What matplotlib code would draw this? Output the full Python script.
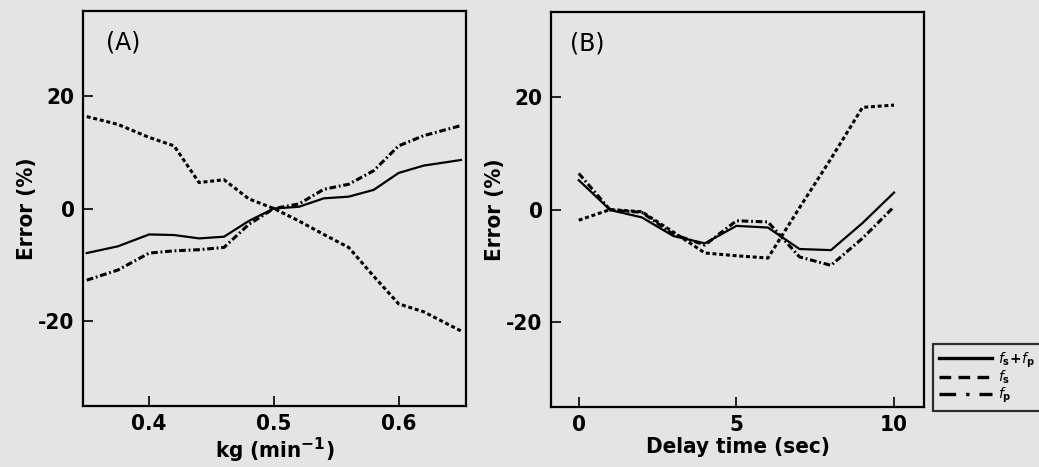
import matplotlib
matplotlib.use("Agg")
import matplotlib.pyplot as plt
from matplotlib.lines import Line2D

# ---- data ----
kg = [0.35, 0.375, 0.40, 0.42, 0.44, 0.46, 0.48, 0.50, 0.52, 0.54, 0.56, 0.58, 0.60, 0.62, 0.65]
a_sum = [-7.9, -6.7, -4.6, -4.7, -5.3, -5.0, -2.2, 0.0, 0.3, 1.8, 2.1, 3.3, 6.3, 7.6, 8.6]
a_fs = [16.3, 14.9, 12.6, 11.1, 4.6, 5.1, 1.7, 0.0, -2.2, -4.6, -6.9, -12.0, -16.9, -18.3, -21.7]
a_fp = [-12.7, -10.9, -7.9, -7.5, -7.3, -6.9, -2.8, 0.0, 0.8, 3.4, 4.3, 6.7, 11.1, 12.9, 14.7]

delay = [0, 1, 2, 3, 4, 5, 6, 7, 8, 9, 10]
b_sum = [5.2, -0.1, -1.4, -4.7, -6.0, -2.9, -3.2, -7.0, -7.2, -2.4, 3.0]
b_fs = [-1.9, 0.0, -0.4, -4.0, -7.7, -8.2, -8.6, 0.3, 9.0, 18.1, 18.5]
b_fp = [6.4, -0.1, -0.5, -4.4, -6.3, -2.0, -2.2, -8.4, -9.9, -5.1, 0.5]

xticks_a = [0.4, 0.5, 0.6]
xticks_b = [0, 5, 10]
yticks = [-20, 0, 20]

W, H = 1039, 467
bg = "#e4e4e4"
fam = ["DejaVu Sans"]
stretch = "condensed"

fig = plt.figure(figsize=(W / 100, H / 100), dpi=100, facecolor=bg)

def box(x0, y0, x1, y1):
    return [x0 / W, 1 - y1 / H, (x1 - x0) / W, (y1 - y0) / H]

axA = fig.add_axes(box(83, 11, 466, 406))
axB = fig.add_axes(box(551, 12, 924, 407))

ls_fs = (0, (1.3, 0.9))
ls_fp = (0, (2.2, 0.9, 0.6, 0.9))

def style(ax, xt, xl, xlim):
    ax.set_facecolor(bg)
    ax.set_xlim(*xlim)
    ax.set_ylim(-35, 35)
    ax.set_xticks(xt)
    ax.set_yticks(yticks)
    ax.set_xticklabels([str(v) for v in xt], fontsize=16, fontweight="bold", family=fam, stretch=stretch)
    ax.set_yticklabels([str(v) for v in yticks], fontsize=16, fontweight="bold", family=fam, stretch=stretch)
    ax.tick_params(direction="in", length=7, width=1.2, pad=6)
    for s in ax.spines.values():
        s.set_linewidth(1.6)
    ax.set_xlabel(xl, fontsize=16, fontweight="bold", family=fam, stretch=stretch, labelpad=1)
    ax.set_ylabel("Error (%)", fontsize=16, fontweight="bold", family=fam, stretch=stretch, labelpad=1)

axA.plot(kg, a_sum, color="black", lw=1.6, ls="-")
axA.plot(kg, a_fs, color="black", lw=2.2, ls=ls_fs)
axA.plot(kg, a_fp, color="black", lw=2.2, ls=ls_fp)
style(axA, xticks_a, r"kg (min$^{\mathbf{-1}}$)", (0.347, 0.654))
axA.text(0.06, 0.95, "(A)", transform=axA.transAxes, fontsize=17, va="top", ha="left")

axB.plot(delay, b_sum, color="black", lw=1.6, ls="-")
axB.plot(delay, b_fs, color="black", lw=2.2, ls=ls_fs)
axB.plot(delay, b_fp, color="black", lw=2.2, ls=ls_fp)
style(axB, xticks_b, "Delay time (sec)", (-0.88, 10.95))
axB.text(0.05, 0.95, "(B)", transform=axB.transAxes, fontsize=17, va="top", ha="left")

handles = [
    Line2D([], [], color="black", lw=2.4, ls="-"),
    Line2D([], [], color="black", lw=2.4, ls=(0, (3.5, 2.2))),
    Line2D([], [], color="black", lw=2.4, ls=(0, (5, 3, 1, 3))),
]
labels = [r"$\mathbf{\mathit{f}_s\!+\!\mathit{f}_p}$", r"$\mathbf{\mathit{f}_s}$", r"$\mathbf{\mathit{f}_p}$"]
leg = fig.legend(handles, labels, loc="upper left", bbox_to_anchor=(933 / W, 1 - 344 / H),
                 frameon=True, fancybox=False, fontsize=10, handlelength=3.8,
                 labelspacing=-0.05, borderpad=0.45, handletextpad=0.4, borderaxespad=0)
leg.get_frame().set_edgecolor("black")
leg.get_frame().set_linewidth(1.6)
leg.get_frame().set_facecolor(bg)

fig.savefig("out.png", dpi=100, facecolor=bg)
